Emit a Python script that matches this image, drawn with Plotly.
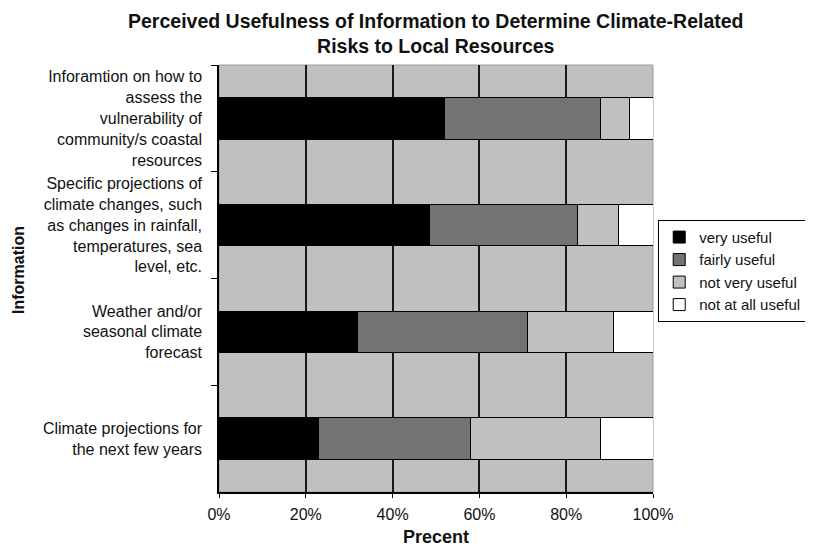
import plotly.graph_objects as go

categories = [
    "Inforamtion on how to<br>assess the<br>vulnerability of<br>community/s coastal<br>resources",
    "Specific projections of<br>climate changes, such<br>as changes in rainfall,<br>temperatures, sea<br>level, etc.",
    "Weather and/or<br>seasonal climate<br>forecast",
    "Climate projections for<br>the next few years",
]
very_useful = [52, 48.5, 32, 23]
fairly_useful = [36, 34, 39, 35]
not_very_useful = [6.5, 9.5, 20, 30]
not_at_all_useful = [5.5, 8, 9, 12]
x_ticks = [0, 20, 40, 60, 80, 100]
x_tick_labels = ["0%", "20%", "40%", "60%", "80%", "100%"]

series = [
    ("very useful", very_useful, "#000000"),
    ("fairly useful", fairly_useful, "#737373"),
    ("not very useful", not_very_useful, "#c0c0c0"),
    ("not at all useful", not_at_all_useful, "#ffffff"),
]

FONT = "Arial, 'Liberation Sans', sans-serif"

fig = go.Figure()
for name, vals, color in series:
    fig.add_trace(go.Bar(
        y=categories, x=vals, name=name, orientation="h",
        marker=dict(color=color, line=dict(color="#000000", width=1)),
    ))

# page body has an 8px offset, so the figure is drawn 8px smaller
fig.update_layout(
    width=805, height=540,
    margin=dict(l=211, r=160, t=57, b=56, autoexpand=False),
    barmode="stack", bargap=0.61,
    plot_bgcolor="#c0c0c0", paper_bgcolor="#ffffff",
    font=dict(family=FONT, size=16, color="#111111"),
    legend=dict(
        x=1.012, xanchor="left", y=0.518, yanchor="middle",
        bordercolor="#000000", borderwidth=1, bgcolor="#ffffff",
        font=dict(size=15, family=FONT, color="#111111"),
        traceorder="normal", itemwidth=30,
    ),
    showlegend=True,
)

fig.update_xaxes(
    range=[0, 100], tickvals=x_ticks, ticktext=x_tick_labels,
    showgrid=True, gridcolor="#1a1a1a", gridwidth=1.5,
    showline=True, linecolor="#000000", linewidth=1.5,
    ticks="outside", ticklen=4, tickcolor="#000000",
    zeroline=False, tickfont=dict(size=16), ticklabelstandoff=3,
    automargin=False,
)
fig.update_yaxes(
    categoryorder="array", categoryarray=categories, autorange="reversed",
    tickson="boundaries", ticks="outside", ticklen=6, tickcolor="#000000",
    showline=True, linecolor="#000000", linewidth=1.5,
    showgrid=False, ticklabelstandoff=12, tickfont=dict(size=16),
    automargin=False,
)

fig.add_shape(type="rect", xref="paper", yref="paper", x0=0, x1=1, y0=0, y1=1,
              line=dict(color="#9a9a9a", width=1), layer="below")

fig.add_annotation(
    text="<b>Perceived Usefulness of Information to Determine Climate-Related<br>Risks to Local Resources</b>",
    xref="paper", yref="paper", x=0.5, xanchor="center",
    y=1 + (65 - 8) / 427, yanchor="top", showarrow=False,
    font=dict(size=19.5, family=FONT, color="#111111"),
)
fig.add_annotation(text="<b>Information</b>", xref="paper", yref="paper",
                   x=(18 - 219) / 434, xanchor="center", y=(492 - 270) / 427,
                   yanchor="middle", textangle=-90,
                   showarrow=False, font=dict(size=16, family=FONT, color="#111111"))
fig.add_annotation(text="<b>Precent</b>", xref="paper", yref="paper",
                   x=0.5, xanchor="center", y=-(537 - 492) / 427, yanchor="middle",
                   showarrow=False,
                   font=dict(size=18, family=FONT, color="#111111"))

fig.write_html("out.html")
